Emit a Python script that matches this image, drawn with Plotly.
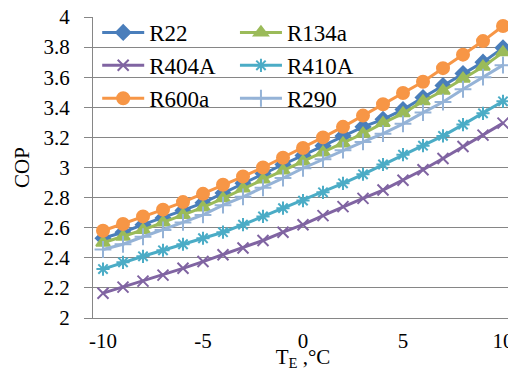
import plotly.graph_objects as go

temps = list(range(-10, 11))

r22 = [2.53, 2.57, 2.62, 2.665, 2.715, 2.765, 2.83, 2.895, 2.96, 3.02, 3.08,
       3.145, 3.21, 3.27, 3.32, 3.385, 3.465, 3.545, 3.625, 3.70, 3.795]
r134a = [2.50, 2.54, 2.585, 2.635, 2.685, 2.735, 2.795, 2.86, 2.92, 2.98, 3.04,
         3.10, 3.16, 3.225, 3.295, 3.36, 3.44, 3.51, 3.59, 3.67, 3.765]
r404a = [2.165, 2.205, 2.245, 2.285, 2.33, 2.375, 2.42, 2.465, 2.515, 2.57, 2.62,
         2.68, 2.74, 2.795, 2.85, 2.915, 2.985, 3.06, 3.14, 3.215, 3.295]
r410a = [2.325, 2.37, 2.41, 2.45, 2.49, 2.53, 2.57, 2.62, 2.675, 2.73, 2.78,
         2.835, 2.895, 2.955, 3.02, 3.085, 3.145, 3.21, 3.285, 3.36, 3.44]
r600a = [2.58, 2.625, 2.675, 2.72, 2.77, 2.825, 2.885, 2.94, 3.0, 3.065, 3.13,
         3.2, 3.27, 3.345, 3.42, 3.495, 3.57, 3.66, 3.75, 3.84, 3.94]
r290 = [2.455, 2.49, 2.54, 2.585, 2.635, 2.685, 2.75, 2.805, 2.865, 2.93, 2.995,
        3.055, 3.115, 3.17, 3.225, 3.29, 3.365, 3.435, 3.52, 3.60, 3.68]

y_ticks = [2, 2.2, 2.4, 2.6, 2.8, 3, 3.2, 3.4, 3.6, 3.8, 4]
y_tick_labels = ["2", "2.2", "2.4", "2.6", "2.8", "3", "3.2", "3.4", "3.6", "3.8", "4"]
x_ticks = [-10, -5, 0, 5, 10]
x_tick_labels = ["-10", "-5", "0", "5", "10"]

# name, values, colour, symbol, size, legend column
series = [
    ("R22", r22, "#4A7EBB", "diamond", 11, "legend"),
    ("R134a", r134a, "#9BBB59", "triangle-up", 12, "legend2"),
    ("R404A", r404a, "#8064A2", "x-thin-open", 11, "legend"),
    ("R410A", r410a, "#4BACC6", "asterisk-open", 11, "legend2"),
    ("R600a", r600a, "#F79646", "circle", 12, "legend"),
    ("R290", r290, "#95B3D7", "cross-thin-open", 12, "legend2"),
]

fig = go.Figure()
for name, vals, color, sym, size, leg in series:
    fig.add_trace(go.Scatter(
        x=temps, y=vals, name=name, mode="lines+markers",
        legend=leg, legendgroup=name,
        line=dict(color=color, width=3),
        marker=dict(symbol=sym, size=size, color=color,
                    line=dict(color=color, width=2)),
    ))

font_family = "Liberation Serif, Times New Roman, serif"
legend_font = dict(family=font_family, size=23, color="black")

fig.update_layout(
    width=508, height=363,
    margin=dict(l=85, r=3, t=7, b=53),
    paper_bgcolor="white", plot_bgcolor="white",
    font=dict(family=font_family, size=21, color="black"),
    showlegend=True,
    legend=dict(
        orientation="v", x=0.01, y=1.02, xanchor="left", yanchor="top",
        itemwidth=42, tracegroupgap=0, font=legend_font,
        bgcolor="rgba(255,255,255,0)",
    ),
    legend2=dict(
        orientation="v", x=0.338, y=1.02, xanchor="left", yanchor="top",
        itemwidth=42, tracegroupgap=0, font=legend_font,
        bgcolor="rgba(255,255,255,0)",
    ),
    xaxis=dict(
        range=[-10.5, 10.5], tickvals=x_ticks, ticktext=x_tick_labels,
        showgrid=False, zeroline=False, showline=True, linecolor="#868686",
        linewidth=1, ticks="", tickfont=dict(size=21), ticklabelstandoff=4,
        ticklabeloverflow="allow", automargin=False,
        title=dict(text="T<sub>E</sub> ,°C", standoff=5, font=dict(size=21)),
    ),
    yaxis=dict(
        range=[2, 4], tickvals=y_ticks, ticktext=y_tick_labels,
        showgrid=True, gridcolor="#868686", gridwidth=1, zeroline=False,
        showline=True, linecolor="#868686", linewidth=1,
        ticks="outside", ticklen=8, tickcolor="#868686",
        tickfont=dict(size=21), ticklabelstandoff=10,
        ticklabeloverflow="allow", automargin=False,
        title=dict(text="COP", standoff=8, font=dict(size=21)),
    ),
)

fig.write_html("out.html")
